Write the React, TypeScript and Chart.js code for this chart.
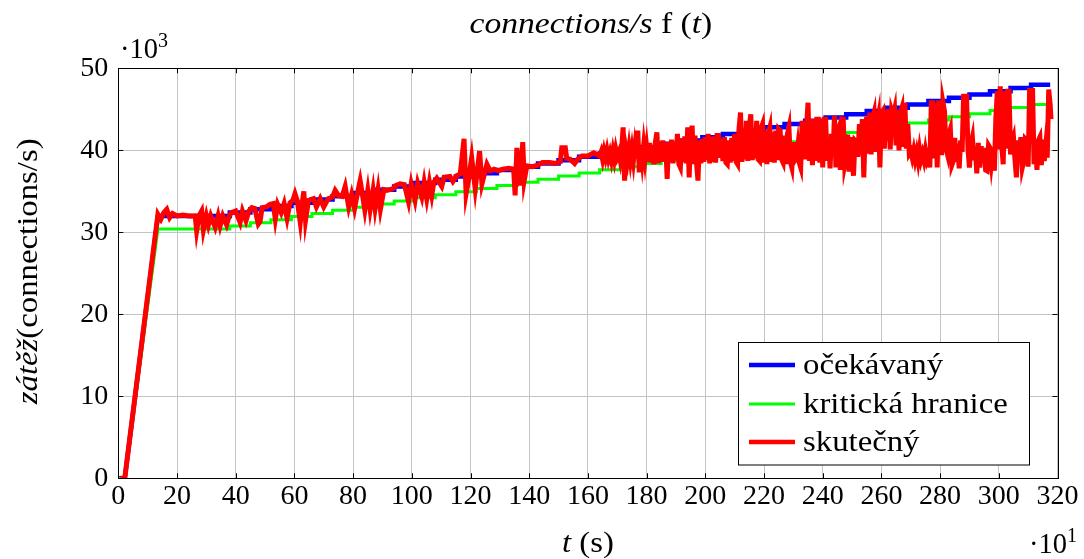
import React, { useEffect, useRef } from 'react';
import { Chart, registerables } from 'chart.js';

Chart.register(...registerables);

// ---------- data ----------
const X_TICKS = [0, 20, 40, 60, 80, 100, 120, 140, 160, 180, 200, 220, 240, 260, 280, 300, 320];
const Y_TICKS = [0, 10, 20, 30, 40, 50];
const SERIES_LABELS = ['očekávaný', 'kritická hranice', 'skutečný'];
const SERIES_COLORS = ['#0000ff', '#00ff00', '#ff0000'];

// time in units of 10 s, load in thousands of connections/s
const rampT = [0, 2.2, 13.5];
const expectedRamp = [0, 0, 32.0];
const criticalRamp = [0, 0, 30.4];
const stepT = [38, 45, 52, 59, 66, 73, 80, 87, 94, 101, 108, 115, 122, 129, 136, 143, 150, 157, 164, 171,
  178, 185, 192, 199, 206, 213, 220, 227, 234, 241, 248, 255, 262, 269, 276, 283, 290, 297, 304, 311];
const expectedSteps = [32.4, 32.8, 33.2, 33.6, 34.0, 34.4, 34.8, 35.2, 35.6, 36.0, 36.4, 36.8, 37.2, 37.6, 38.0,
  38.4, 38.8, 39.2, 39.6, 40.0, 40.4, 40.8, 41.2, 41.6, 42.0, 42.4, 42.8, 43.2, 43.6, 44.0, 44.4, 44.8, 45.2,
  45.6, 46.0, 46.4, 46.8, 47.2, 47.6, 48.0];
const criticalSteps = [30.78, 31.16, 31.54, 31.92, 32.3, 32.68, 33.06, 33.44, 33.82, 34.2, 34.58, 34.96, 35.34,
  35.72, 36.1, 36.48, 36.86, 37.24, 37.62, 38.0, 38.38, 38.76, 39.14, 39.52, 39.9, 40.28, 40.66, 41.04, 41.42,
  41.8, 42.18, 42.56, 42.94, 43.32, 43.7, 44.08, 44.46, 44.84, 45.22, 45.6];
const endT = 317.5;

// measured load, first part (irregular sample times)
const actualT = [0.7, 2.2, 13.5,
  14.5, 15.5, 16.5, 17.5, 18.5, 20, 22, 24, 26.2, 26.7, 27.5, 28.4, 29, 30, 30.7, 31.5, 33, 34, 34.7, 35.6, 36.9,
  37.8, 38.6, 40, 41.5, 42.3, 43.5, 44.5, 45.5, 46.5, 47.7, 48.3, 49, 50.5, 51.7, 52.8, 53.5, 54.3, 55.5, 56.5,
  57.5, 58.5, 59.5, 60.2, 61, 62, 62.8, 63.2, 63.8, 64.8, 66.5, 67.5, 68.8, 70, 71.5, 73, 73.9, 75, 76.3, 77.3,
  78.5, 79.5, 80.5, 81.5, 82.4, 83, 84, 85, 85.8, 86.8, 87.5, 88.5, 89.3, 90.5, 91.5, 92.5, 93.5,
  94.5, 96, 97.5, 98.9, 99.8, 101.1, 102, 103.4, 104.2, 105.1, 106, 106.8, 107.5, 108.5, 110.2, 111, 113, 114,
  115.3, 116.5, 117.8, 118.5, 119.3, 120.4, 121.6, 123.1, 123.9, 125.6, 126.7, 128, 129.5, 131, 133, 134.7, 135.2,
  135.8, 136.9, 137.8, 138.3, 139.2, 141, 143, 144.5, 147, 149, 150.6, 151.1, 152.3, 152.8, 154, 155.5, 156.5,
  158, 160, 162];
const actualLoad = [0, 0, 32.2,
  31.6, 32.4, 32.8, 31.8, 32.3, 32.0, 32.1, 32.0, 32.0, 30.2, 32.0, 32.6, 30.3, 32.0, 30.9, 32.0, 30.6, 32.0, 30.8,
  32.0, 30.9, 32.0, 32.4, 32.6, 31.2, 32.6, 31.4, 32.6, 33.0, 32.9, 31.0, 31.3, 33.0, 33.1, 33.4, 33.5, 31.6,
  33.4, 32.4, 33.5, 31.7, 33.6, 33.9, 34.7, 33.8, 31.2, 33.9, 35.0, 31.5, 33.9, 34.1, 33.1, 34.1, 33.1, 34.1,
  34.3, 35.1, 34.5, 34.4, 35.6, 33.1, 34.6, 32.9, 34.8, 36.3, 35.0, 32.7, 35.1, 32.8, 35.1, 32.9, 35.2, 32.8,
  35.2, 35.1, 35.2, 35.3,
  35.7, 35.9, 35.8, 33.7, 35.9, 33.9, 36.0, 34.3, 36.1, 34.1, 36.1, 34.5, 36.1, 36.6, 35.6, 36.7, 36.8, 36.2,
  36.9, 37.1, 41.4, 34.7, 36.3, 39.1, 35.3, 39.9, 35.9, 38.3, 37.5, 37.7, 37.5, 37.7, 37.8, 37.7, 34.5,
  40.3, 35.7, 41.0, 36.3, 38.1, 38.0, 38.2, 38.5, 38.5, 38.4, 38.6, 40.3, 40.3, 39.0, 38.9, 38.4, 38.9,
  39.3, 39.3, 39.7];

// measured load, second part: sampled every 5 s (0.5 units) from t = 164
const denseStartT = 164;
const denseStepT = 0.5;
const actualLoadDense = [
  39.3, 39.8, 38.9, 39.9, 39.1, 40.0, 39.0, 39.7, 38.8, 39.9, 38.9, 40.1, 39.2, 39.7, 38.8, 40.2, // 164-171.5
  42.8, 36.3, 40.0, 38.9, 40.3, 38.8, 40.1, 38.7, 40.4, 39.0, 42.4, 37.3, 40.5, 38.8, 40.6, 38.9, // 172-179.5
  40.4, 38.6, 40.9, 38.5, 40.6, 38.3, 41.0, 42.2, 38.4, 40.8, 38.6, 41.2, 38.7, 40.9, 36.5, 41.0, // 180-187.5
  38.6, 41.3, 38.4, 40.8, 38.9, 42.0, 38.3, 37.9, 41.4, 38.6, 41.7, 38.4, 42.8, 36.7, 41.5, 43.0, // 188-195.5
  38.3, 41.8, 38.5, 36.3, 41.2, 38.4, 41.4, 38.6, 41.6, 38.8, 42.0, 38.4, 41.6, 38.6, 41.7, 38.5, // 196-203.5
  41.8, 41.8, 39.1, 41.3, 38.7, 41.6, 38.5, 38.3, 41.2, 38.5, 41.5, 38.7, 42.0, 38.6, 38.3, 42.7, // 204-211.5
  44.6, 38.6, 42.4, 38.9, 43.6, 38.7, 42.9, 44.4, 38.8, 42.6, 39.0, 43.6, 38.9, 38.7, 42.7, 43.2, // 212-219.5
  38.5, 42.4, 38.3, 42.1, 42.8, 38.6, 42.2, 38.5, 42.4, 38.8, 42.6, 42.4, 38.9, 38.5, 41.8, 38.3, // 220-227.5
  42.0, 42.8, 38.6, 37.9, 41.0, 38.8, 39.1, 40.5, 38.5, 37.9, 43.6, 42.4, 38.9, 42.9, 45.8, 38.7, // 228-235.5
  43.8, 38.2, 43.8, 38.7, 43.8, 43.8, 38.5, 43.8, 37.9, 43.8, 43.8, 38.7, 41.5, 37.8, 42.0, 39.4, // 236-243.5
  44.2, 37.9, 42.3, 42.8, 37.6, 43.8, 43.8, 38.2, 39.1, 41.9, 37.4, 41.6, 38.8, 36.9, 41.2, 41.0, // 244-251.5
  39.2, 43.2, 39.5, 43.8, 36.7, 42.6, 44.1, 39.6, 44.6, 39.5, 43.9, 44.6, 39.8, 43.2, 44.2, 37.9, // 252-259.5
  44.5, 44.8, 40.2, 44.9, 43.5, 45.0, 40.1, 44.8, 44.2, 45.0, 40.6, 44.9, 40.0, 44.6, 45.2, 40.4, // 260-267.5
  45.8, 40.2, 43.2, 39.6, 39.9, 39.1, 40.0, 38.9, 39.8, 38.7, 40.1, 38.9, 39.6, 38.8, 40.0, 38.9, // 268-275.5
  39.5, 37.9, 45.8, 45.8, 39.0, 45.8, 37.9, 45.8, 45.8, 39.4, 45.8, 44.8, 40.2, 39.5, 42.0, 42.6, // 276-283.5
  38.2, 38.7, 41.5, 38.6, 40.8, 37.8, 41.2, 39.8, 46.6, 46.6, 46.6, 40.1, 37.9, 40.8, 41.6, 38.8, // 284-291.5
  40.4, 37.2, 40.9, 37.9, 40.5, 38.6, 40.3, 37.6, 37.5, 40.6, 40.3, 38.4, 39.9, 37.5, 44.0, 47.2, // 292-299.5
  40.1, 47.8, 40.6, 38.3, 47.2, 40.2, 47.2, 47.2, 39.5, 41.0, 41.6, 38.9, 36.7, 41.2, 39.3, 41.6, // 300-307.5
  37.9, 38.7, 41.4, 41.2, 38.0, 47.6, 40.8, 47.6, 38.3, 41.0, 37.6, 41.2, 41.6, 38.2, 41.3, 38.7, // 308-315.5
  40.6, 39.1, 47.4, 45.6, 43.8, // 316-318
];

// ---------- helpers ----------
function stepSeries(ramp: number[], steps: number[]) {
  const pts = rampT.map((t, i) => ({ x: t, y: ramp[i] }));
  let prev = ramp[ramp.length - 1];
  stepT.forEach((t, i) => {
    pts.push({ x: t, y: prev });
    pts.push({ x: t, y: steps[i] });
    prev = steps[i];
  });
  pts.push({ x: endT, y: prev });
  return pts;
}

function actualSeries() {
  const pts = actualT.map((t, i) => ({ x: t, y: actualLoad[i] }));
  actualLoadDense.forEach((v, i) => pts.push({ x: Math.min(denseStartT + i * denseStepT, 317.8), y: v }));
  return pts;
}

const SERIF = '"Liberation Serif", "Times New Roman", serif';
const FS = 28.5;
const UP = `${FS}px ${SERIF}`;
const IT = `italic ${FS}px ${SERIF}`;
const SUP = `20px ${SERIF}`;
const SX = 1.15;

type Run = { t: string; f: string; sx?: number; dy?: number };

function drawRuns(ctx: CanvasRenderingContext2D, runs: Run[], x: number, y: number, align: 'left' | 'center') {
  const widths = runs.map((r) => {
    ctx.font = r.f;
    return ctx.measureText(r.t).width * (r.sx ?? SX);
  });
  const total = widths.reduce((a, b) => a + b, 0);
  let cx = align === 'center' ? x - total / 2 : x;
  runs.forEach((r, i) => {
    ctx.save();
    ctx.font = r.f;
    ctx.textAlign = 'left';
    ctx.textBaseline = 'alphabetic';
    ctx.translate(cx, y + (r.dy ?? 0));
    ctx.scale(r.sx ?? SX, 1);
    ctx.fillText(r.t, 0, 0);
    ctx.restore();
    cx += widths[i];
  });
}

const al = (v: number) => Math.round(v) + 0.5;

const decorPlugin = {
  id: 'decor',
  afterDatasetsDraw(chart: any) {
    const { ctx, chartArea: a } = chart;
    const xs = chart.scales.x;
    const ys = chart.scales.y;
    ctx.save();
    ctx.strokeStyle = '#000';
    ctx.lineWidth = 1;
    ctx.beginPath();
    const T = 5;
    X_TICKS.forEach((v) => {
      const px = al(xs.getPixelForValue(v));
      ctx.moveTo(px, a.bottom); ctx.lineTo(px, a.bottom - T);
      ctx.moveTo(px, a.top); ctx.lineTo(px, a.top + T);
    });
    Y_TICKS.forEach((v) => {
      const py = al(ys.getPixelForValue(v));
      ctx.moveTo(a.left, py); ctx.lineTo(a.left + T, py);
      ctx.moveTo(a.right, py); ctx.lineTo(a.right - T, py);
    });
    ctx.stroke();
    ctx.strokeRect(al(a.left), al(a.top), Math.round(a.right) - Math.round(a.left), Math.round(a.bottom) - Math.round(a.top));

    // legend
    const bx = 738.5, by = 342.5, bw = 291, bh = 122.5;
    ctx.fillStyle = '#fff';
    ctx.fillRect(bx, by, bw, bh);
    ctx.strokeStyle = '#000';
    ctx.strokeRect(bx, by, bw, bh);
    const rowY = [365, 404, 442];
    const lw = [4.5, 3, 4.5];
    chart.data.datasets.forEach((ds: any, i: number) => {
      ctx.beginPath();
      ctx.strokeStyle = ds.borderColor;
      ctx.lineWidth = lw[i];
      ctx.moveTo(749, rowY[i]);
      ctx.lineTo(795, rowY[i]);
      ctx.stroke();
      ctx.fillStyle = '#000';
      drawRuns(ctx, [{ t: ds.label, f: UP }], 803, rowY[i] + 8.5, 'left');
    });

    ctx.fillStyle = '#000';
    const cxp = (a.left + a.right) / 2;
    drawRuns(ctx, [
      { t: 'connections/s', f: IT, sx: 1.18 },
      { t: ' f ', f: UP, sx: 1.18 },
      { t: '(', f: UP, sx: 1.18 },
      { t: 't', f: IT, sx: 1.18 },
      { t: ')', f: UP, sx: 1.18 },
    ], cxp + 3, 33, 'center');
    drawRuns(ctx, [
      { t: 't', f: IT },
      { t: ' (s)', f: UP },
    ], cxp, 552, 'center');
    drawRuns(ctx, [
      { t: '\u00B710', f: UP, sx: 1 },
      { t: '3', f: SUP, sx: 1, dy: -11 },
    ], 120, 58, 'left');
    drawRuns(ctx, [
      { t: '\u00B710', f: UP, sx: 1 },
      { t: '1', f: SUP, sx: 1, dy: -11 },
    ], 1029, 553, 'left');
    ctx.save();
    ctx.translate(37, (a.top + a.bottom) / 2 - 2);
    ctx.rotate(-Math.PI / 2);
    drawRuns(ctx, [
      { t: 'zátěž', f: IT },
      { t: '(connections/s)', f: UP },
    ], 0, 0, 'center');
    ctx.restore();

    ctx.restore();
  },
};

export default function App() {
  const ref = useRef<HTMLCanvasElement | null>(null);
  useEffect(() => {
    document.body.style.margin = '0';
    const canvas = ref.current;
    if (!canvas) return;
    const tickFont = { family: SERIF, size: 28 };
    const chart = new Chart(canvas, {
      type: 'line',
      data: {
        datasets: [
          {
            label: SERIES_LABELS[0],
            data: stepSeries(expectedRamp, expectedSteps),
            borderColor: SERIES_COLORS[0],
            borderWidth: 4.5,
            pointRadius: 0,
            tension: 0,
            fill: false,
            order: 2,
          },
          {
            label: SERIES_LABELS[1],
            data: stepSeries(criticalRamp, criticalSteps),
            borderColor: SERIES_COLORS[1],
            borderWidth: 3,
            pointRadius: 0,
            tension: 0,
            fill: false,
            order: 1,
          },
          {
            label: SERIES_LABELS[2],
            data: actualSeries(),
            borderColor: SERIES_COLORS[2],
            borderWidth: 5,
            pointRadius: 0,
            tension: 0,
            fill: false,
            order: 0,
          },
        ],
      },
      options: {
        responsive: false,
        animation: false,
        events: [],
        layout: { padding: { left: 0, right: 26.5, top: 68.3, bottom: 0 } },
        plugins: {
          legend: { display: false },
          title: { display: false },
          tooltip: { enabled: false },
        },
        scales: {
          x: {
            type: 'linear',
            min: 0,
            max: 320,
            afterBuildTicks: (s: any) => { s.ticks = X_TICKS.map((v) => ({ value: v })); },
            afterFit: (s: any) => { s.height = 80.7; },
            ticks: { font: tickFont, color: '#000', padding: 2, autoSkip: false, maxRotation: 0 },
            grid: { color: '#c4c4c4', lineWidth: 1, drawTicks: false },
            border: { display: false },
          },
          y: {
            type: 'linear',
            min: 0,
            max: 50,
            afterBuildTicks: (s: any) => { s.ticks = Y_TICKS.map((v) => ({ value: v })); },
            afterFit: (s: any) => { s.width = 118.3; },
            ticks: { font: tickFont, color: '#000', padding: 10 },
            grid: { color: '#c4c4c4', lineWidth: 1, drawTicks: false },
            border: { display: false },
          },
        },
      },
      plugins: [decorPlugin],
    });
    return () => chart.destroy();
  }, []);
  return (
    <div style={{ width: 1084, height: 559 }}>
      <canvas ref={ref} width={1084} height={559} style={{ display: 'block' }} />
    </div>
  );
}
